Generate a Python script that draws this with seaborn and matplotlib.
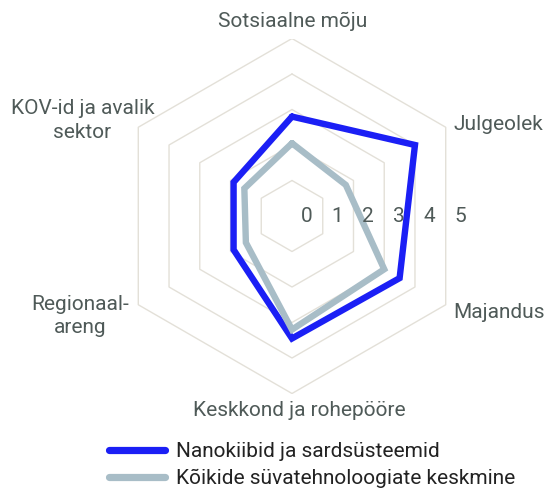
import numpy as np
import pandas as pd
import matplotlib
matplotlib.use("Agg")
import matplotlib.pyplot as plt
import matplotlib.transforms as mtransforms
from matplotlib.lines import Line2D
import seaborn as sns

# ---- data ----
categories = ["Sotsiaalne mõju", "Julgeolek", "Majandus",
              "Keskkond ja rohepööre", "Regionaal-\nareng", "KOV-id ja avalik\nsektor"]
series_names = ["Nanokiibid ja sardsüsteemid", "Kõikide süvatehnoloogiate keskmine"]
nano_values = [2.8, 4.0, 3.5, 3.45, 1.9, 1.9]
avg_values = [2.05, 1.75, 3.0, 3.2, 1.5, 1.55]
tick_values = [0, 1, 2, 3, 4, 5]

blue = "#1b1ff5"
gray = "#a8bdc7"
grid_c = "#e3e0d8"
label_c = "#4f5a58"
FS = 15

sns.set_theme(style="white")
plt.rcParams["font.family"] = ["Roboto", "DejaVu Sans"]

W, H = 547, 492
fig = plt.figure(figsize=(W / 100, H / 100), dpi=100)
cx, cy, R = 292, 216, 177.5
ax = fig.add_axes([(cx - R) / W, (H - cy - R) / H, 2 * R / W, 2 * R / H])
ax.set_xlim(-5, 5)
ax.set_ylim(-5, 5)
ax.set_aspect("equal")
ax.axis("off")

n = len(categories)
theta = np.arange(n) * 2 * np.pi / n  # clockwise from top


def to_xy(r):
    r = np.asarray(r, dtype=float)
    t = np.append(theta, theta[0])
    rr = np.append(r, r[0])
    return rr * np.sin(t), rr * np.cos(t)


# hexagonal grid
for k in tick_values[1:]:
    gx, gy = to_xy([k] * n)
    ax.plot(gx, gy, color=grid_c, lw=1.0, zorder=1)

# series
for vals, col, name in [(nano_values, blue, series_names[0]),
                        (avg_values, gray, series_names[1])]:
    x, y = to_xy(vals)
    df = pd.DataFrame({"x": x, "y": y, "order": np.arange(len(x))})
    sns.lineplot(data=df, x="x", y="y", sort=False, estimator=None, ax=ax,
                 color=col, lw=4.6, zorder=3, solid_joinstyle="miter")
ax.set_xlabel("")
ax.set_ylabel("")

# radial tick labels
for k in tick_values:
    ax.text(0.866 * k + 0.41, 0, str(k), ha="center", va="center",
            fontsize=FS, color=label_c, zorder=4)

# category labels
ox, oy = to_xy([5] * n)
specs = [  # (dx px, dy px, ha)
    (1, 17, "center"),
    (8, 3, "left"),
    (8, -8, "left"),
    (7, -17, "center"),
    (-9, -11, "right"),
    (16, 7, "right"),
]
for i, (lab, (dx, dy, ha)) in enumerate(zip(categories, specs)):
    tr = mtransforms.offset_copy(ax.transData, fig=fig, x=dx, y=dy, units="dots")
    ax.text(ox[i], oy[i], lab, transform=tr, ha=ha, va="center",
            multialignment="center", fontsize=FS, color=label_c,
            linespacing=1.3)

handles = [Line2D([], [], color=blue, lw=5.2, solid_capstyle="round"),
           Line2D([], [], color=gray, lw=5.2, solid_capstyle="round")]
fig.legend(handles, series_names, loc="upper left",
           bbox_to_anchor=(109 / W, 1 - 442 / H), frameon=False,
           fontsize=FS, handlelength=2.7, handletextpad=0.5,
           labelspacing=0.38, borderpad=0, borderaxespad=0,
           labelcolor="#222222")

fig.savefig("out.png", dpi=100)
